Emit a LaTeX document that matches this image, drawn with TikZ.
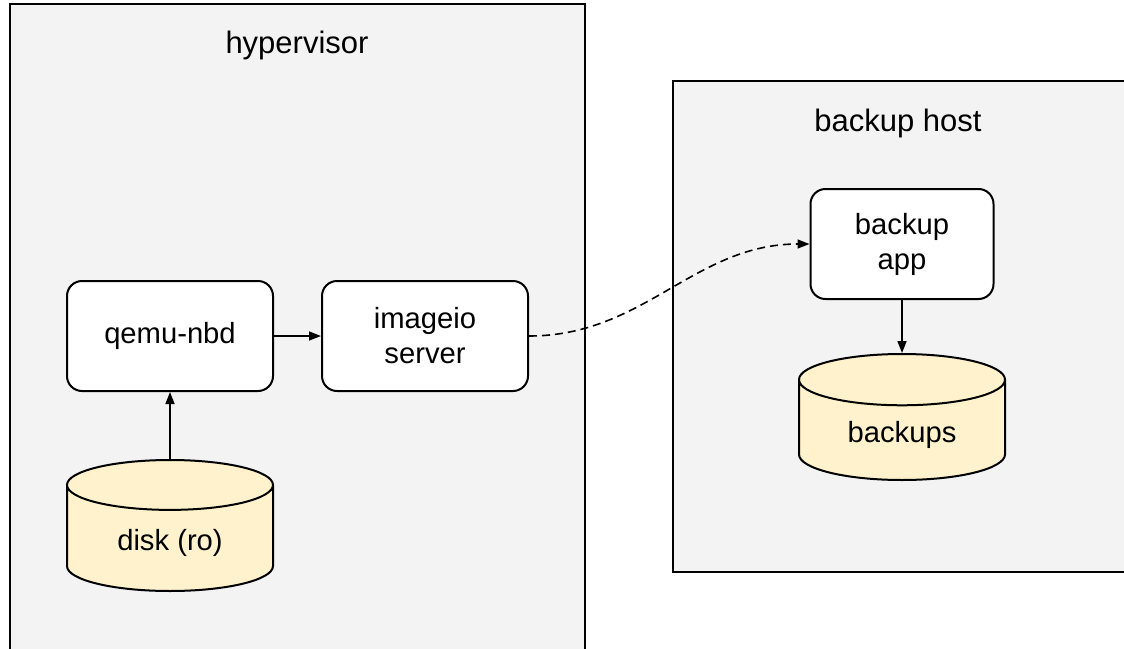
\documentclass[tikz,border=0pt]{standalone}
\usepackage{fontspec}
\setmainfont{Liberation Sans}
\usetikzlibrary{shapes.geometric,arrows.meta}
\definecolor{hostgray}{HTML}{F3F3F3}
\definecolor{diskfill}{HTML}{FFF2CC}

\begin{document}
\begin{tikzpicture}[x=.5pt,y=-.5pt,
  every node/.style={font=\fontsize{14.6}{17.5}\selectfont},
  host/.style={draw,line width=1pt,fill=hostgray},
  proc/.style={draw,line width=1pt,fill=white,rounded corners=7.5pt,
    minimum width=103pt,minimum height=55pt,align=center},
  store/.style={draw,line width=1pt,fill=diskfill,cylinder,shape border rotate=90,
    aspect=.42,minimum width=103pt,anchor=north},
  flow/.style={line width=.8pt,-{Triangle[length=6pt,width=4.5pt]}}]
\useasboundingbox (0,0) rectangle (1124,648);
\clip (0,0) rectangle (1124,648);

\draw[host] (10,4) rectangle (585,660);
\draw[host] (673,81) rectangle (1140,572);
\node at (297,45) {\fontsize{15.5}{18}\selectfont hypervisor};
\node at (898,123) {\fontsize{15.5}{18}\selectfont backup host};

\node[proc] (qemu) at (170,336) {qemu-nbd};
\node[proc] (imageio) at (425,336) {imageio\\server};
\node[store,minimum height=65.5pt] (disk) at (170,459) {disk (ro)};
\node[proc,minimum width=91.5pt] (app) at (902,244) {backup\\app};
\node[store,minimum height=63pt] (backups) at (902,353) {backups};

\draw[flow] (disk.north) -- (qemu);
\draw[flow] (qemu) -- (imageio);
\draw[flow] (app) -- (backups.north);
\draw[flow,dash pattern=on 4pt off 2.5pt] (imageio.east) to[out=0,in=180] (app.west);
\end{tikzpicture}
\end{document}
